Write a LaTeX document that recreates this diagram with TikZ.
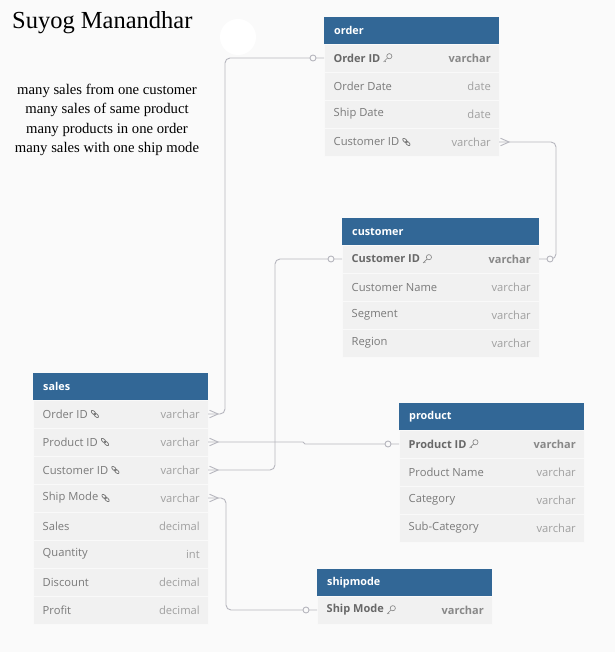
\documentclass[tikz,border=0pt]{standalone}
\usepackage{fontspec}
\setmainfont{Liberation Serif}
\newfontfamily\uifont{Open Sans}
\usetikzlibrary{calc}
\definecolor{bg}{HTML}{FAFAFA}
\definecolor{hdr}{HTML}{326796}
\definecolor{rowbg}{HTML}{F1F1F1}
\definecolor{fldc}{HTML}{7A7A7A}
\definecolor{typc}{HTML}{A0A0A0}
\definecolor{keyc}{HTML}{686868}
\definecolor{keyt}{HTML}{888888}
\definecolor{connc}{HTML}{B6B6BE}
\tikzset{
  hdrbox/.style={fill=hdr, draw=none, anchor=north west, minimum height=27pt, inner sep=0pt, outer sep=0pt},
  hdrtxt/.style={font=\uifont\bfseries\fontsize{10.8}{12}\selectfont, text=white, anchor=west, inner sep=0pt},
  rowbox/.style={fill=rowbg, draw=white!55!rowbg, line width=0.6pt, anchor=north west, minimum height=28pt, inner sep=0pt, outer sep=0pt},
  fld/.style={font=\uifont\fontsize{11.2}{13}\selectfont, text=fldc, anchor=west, inner sep=0pt},
  keyfld/.style={font=\uifont\bfseries\fontsize{11}{13}\selectfont, text=keyc, anchor=west, inner sep=0pt},
  typ/.style={font=\uifont\fontsize{11.2}{13}\selectfont, text=typc, anchor=east, inner sep=0pt},
  keytyp/.style={font=\uifont\bfseries\fontsize{11}{13}\selectfont, text=keyt, anchor=east, inner sep=0pt},
  conn/.style={draw=connc, line width=0.9pt},
  circ/.style={circle, draw=connc, line width=0.9pt, fill=bg, minimum size=6pt, inner sep=0pt},
  keyic/.pic={\draw[keyt, line width=0.65pt] (1.8,-1.8) circle (2.6) (0,0) -- (-4,4) (-2.8,2.8) -- (-1.8,3.8);},
  linkic/.pic={\draw[fldc, line width=0.75pt, rotate=-45] (-2,0) ellipse (2.8 and 1.5) (2,0) ellipse (2.8 and 1.5);},
  crow/.pic={\draw[conn] (1.5,-3.8) -- (10,0) -- (1.5,3.8);},
  note/.style={font=\fontsize{14.7}{17}\selectfont, anchor=base, inner sep=0pt}
}
\newcommand{\erhdr}[5]{%
  \node[hdrbox, minimum width=#4pt] (#1) at (#2,#3) {};
  \node[hdrtxt] (#1-t) at ([xshift=10pt]#1.west) {#5};}
\newcommand{\errow}[8]{%
  \node[rowbox, minimum width=#4pt] (#1) at (#2,#3) {};
  \node[#7] (#1-f) at ([xshift=9.5pt]#1.west) {#5};
  \node[#8] (#1-t) at ([xshift=-8pt]#1.east) {#6};}
\begin{document}
\begin{tikzpicture}[x=1pt,y=-1pt]
\fill[bg] (0,0) rectangle (615,652);
\useasboundingbox (0,0) rectangle (615,652);
\fill[white] (238,37) circle (18);
\node[anchor=base west, inner sep=0pt, font=\fontsize{24.5}{28}\selectfont] (title) at (12,29) {Suyog Manandhar};
\node[note] (n1) at (107,94.5) {many sales from one customer};
\node[note] (n2) at (107,113.8) {many sales of same product};
\node[note] (n3) at (107,133.1) {many products in one order};
\node[note] (n4) at (107,152.4) {many sales with one ship mode};
% order
\erhdr{order}{324}{17}{175}{order}
\errow{order-r1}{324}{44}{175}{Order ID}{varchar}{keyfld}{keytyp}
\errow{order-r2}{324}{72}{175}{Order Date}{date}{fld}{typ}
\errow{order-r3}{324}{100}{175}{Ship Date}{date}{fld}{typ}
\errow{order-r4}{324}{128}{175}{Customer ID}{varchar}{fld}{typ}
\pic at ([xshift=7pt]order-r1-f.east) {keyic};
\pic at ([xshift=7pt]order-r4-f.east) {linkic};
% customer
\erhdr{customer}{342}{218}{197}{customer}
\errow{customer-r1}{342}{245}{197}{Customer ID}{varchar}{keyfld}{keytyp}
\errow{customer-r2}{342}{273}{197}{Customer Name}{varchar}{fld}{typ}
\errow{customer-r3}{342}{301}{197}{Segment}{varchar}{fld}{typ}
\errow{customer-r4}{342}{329}{197}{Region}{varchar}{fld}{typ}
\pic at ([xshift=7pt]customer-r1-f.east) {keyic};
% sales
\erhdr{sales}{33}{373}{175}{sales}
\errow{sales-r1}{33}{400}{175}{Order ID}{varchar}{fld}{typ}
\errow{sales-r2}{33}{428}{175}{Product ID}{varchar}{fld}{typ}
\errow{sales-r3}{33}{456}{175}{Customer ID}{varchar}{fld}{typ}
\errow{sales-r4}{33}{484}{175}{Ship Mode}{varchar}{fld}{typ}
\errow{sales-r5}{33}{512}{175}{Sales}{decimal}{fld}{typ}
\errow{sales-r6}{33}{540}{175}{Quantity}{int}{fld}{typ}
\errow{sales-r7}{33}{568}{175}{Discount}{decimal}{fld}{typ}
\errow{sales-r8}{33}{596}{175}{Profit}{decimal}{fld}{typ}
\pic at ([xshift=7pt]sales-r1-f.east) {linkic};
\pic at ([xshift=7pt]sales-r2-f.east) {linkic};
\pic at ([xshift=7pt]sales-r3-f.east) {linkic};
\pic at ([xshift=7pt]sales-r4-f.east) {linkic};
% product
\erhdr{product}{399}{403}{185}{product}
\errow{product-r1}{399}{430}{185}{Product ID}{varchar}{keyfld}{keytyp}
\errow{product-r2}{399}{458}{185}{Product Name}{varchar}{fld}{typ}
\errow{product-r3}{399}{486}{185}{Category}{varchar}{fld}{typ}
\errow{product-r4}{399}{514}{185}{Sub-Category}{varchar}{fld}{typ}
\pic at ([xshift=7pt]product-r1-f.east) {keyic};
% shipmode
\erhdr{shipmode}{317}{569}{175}{shipmode}
\errow{shipmode-r1}{317}{596}{175}{Ship Mode}{varchar}{keyfld}{keytyp}
\pic at ([xshift=7pt]shipmode-r1-f.east) {keyic};
% connectors
\draw[conn, rounded corners=5pt] (sales-r1.east) -- ++(17,0) |- (order-r1.west);
\draw[conn, rounded corners=5pt] (order-r4.east) -- ++(57,0) |- (customer-r1.east);
\draw[conn] (sales-r2.east) -- ++(95,0) -- ($(product-r1.west)+(-94,0)$) -- (product-r1.west);
\draw[conn, rounded corners=5pt] (sales-r3.east) -- ++(67,0) |- (customer-r1.west);
\draw[conn, rounded corners=5pt] (sales-r4.east) -- ++(18,0) |- (shipmode-r1.west);
\pic at (sales-r1.east) {crow};
\pic at (sales-r2.east) {crow};
\pic at (sales-r3.east) {crow};
\pic at (sales-r4.east) {crow};
\pic at (order-r4.east) {crow};
\node[circ] (c1) at ([xshift=-11pt]order-r1.west) {};
\node[circ] (c2) at ([xshift=11pt]customer-r1.east) {};
\node[circ] (c3) at ([xshift=-11pt]product-r1.west) {};
\node[circ] (c4) at ([xshift=-11pt]customer-r1.west) {};
\node[circ] (c5) at ([xshift=-11pt]shipmode-r1.west) {};
\end{tikzpicture}
\end{document}
